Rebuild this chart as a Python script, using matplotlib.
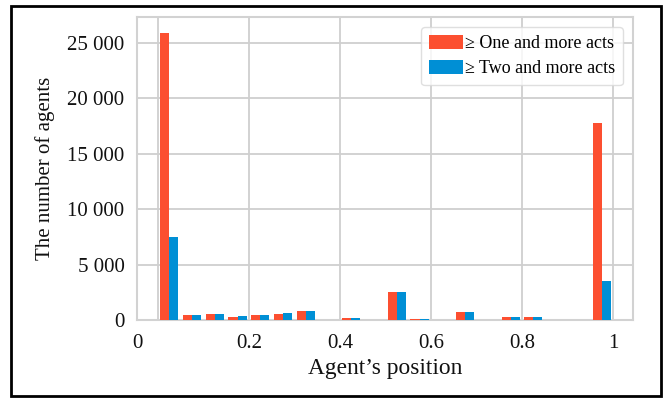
import numpy as np
import matplotlib
matplotlib.use("Agg")
import matplotlib.pyplot as plt
from matplotlib.patches import Rectangle
from matplotlib.ticker import FuncFormatter

plt.rcParams['font.family'] = ['Liberation Serif', 'DejaVu Serif']

# Histogram of agent positions: 20 equal bins on [0, 1]
bin_edges = np.linspace(0.0, 1.0, 21)
one_or_more = [25830, 420, 510, 300, 420, 570, 810, 0, 180, 0,
               2550, 120, 0, 690, 0, 300, 300, 0, 0, 17790]
two_or_more = [7440, 420, 540, 330, 420, 600, 840, 0, 180, 0,
               2550, 120, 0, 690, 0, 300, 300, 0, 0, 3540]
series_labels = ['\u2265 One and more acts', '\u2265 Two and more acts']
series_colors = ['#FC4F30', '#008FD5']
x_ticks = [0, 0.2, 0.4, 0.6, 0.8, 1.0]
x_tick_labels = ['0', '0.2', '0.4', '0.6', '0.8', '1']
y_ticks = [0, 5000, 10000, 15000, 20000, 25000]

fig = plt.figure(figsize=(6.66, 3.99), dpi=100)
ax = fig.add_axes([0.2057, 0.198, 0.7448, 0.759])

centers = 0.5 * (bin_edges[:-1] + bin_edges[1:])
ax.hist([centers, centers], bins=bin_edges,
        weights=[one_or_more, two_or_more],
        color=series_colors, label=series_labels, zorder=3)

ax.set_xlim(-0.046, 1.044)
ax.set_ylim(0, 27300)

ax.set_xticks(x_ticks)
# the "0" label is drawn separately at the left frame edge
ax.set_xticklabels([''] + x_tick_labels[1:])
ax.set_yticks(y_ticks)
ax.yaxis.set_major_formatter(FuncFormatter(lambda v, p: f"{int(v):,}".replace(",", " ")))

ax.tick_params(axis='both', length=0, labelsize=15, colors='#111111')
ax.tick_params(axis='x', pad=10)
ax.tick_params(axis='y', pad=9)

ax.annotate(x_tick_labels[0], xy=(0, 0), xycoords='axes fraction',
            xytext=(0, -10), textcoords='offset points',
            ha='center', va='top', fontsize=15, color='#111111')

ax.grid(True, color='#cfcfcf', linewidth=1.3, zorder=0)
ax.set_axisbelow(True)
for s in ax.spines.values():
    s.set_color('#d2d2d2')
    s.set_linewidth(1.5)

ax.set_xlabel("Agent\u2019s position", fontsize=16.8, color='#111111', labelpad=4)
ax.set_ylabel("The number of agents", fontsize=15, color='#111111', labelpad=9)

leg = ax.legend(loc='upper right', fontsize=13, frameon=True, fancybox=True,
                handlelength=1.9, handleheight=0.75, handletextpad=0.08,
                borderaxespad=0.55, borderpad=0.45, labelspacing=0.45)
leg.get_frame().set_edgecolor('#d8d8d8')
leg.get_frame().set_linewidth(1.0)

# outer black frame
fig.patches.append(Rectangle((11 / 666, 1 - 396 / 399), 650 / 666, 390 / 399,
                             transform=fig.transFigure, fill=False,
                             edgecolor='black', linewidth=2.0))

fig.savefig("out.png", dpi=100)
